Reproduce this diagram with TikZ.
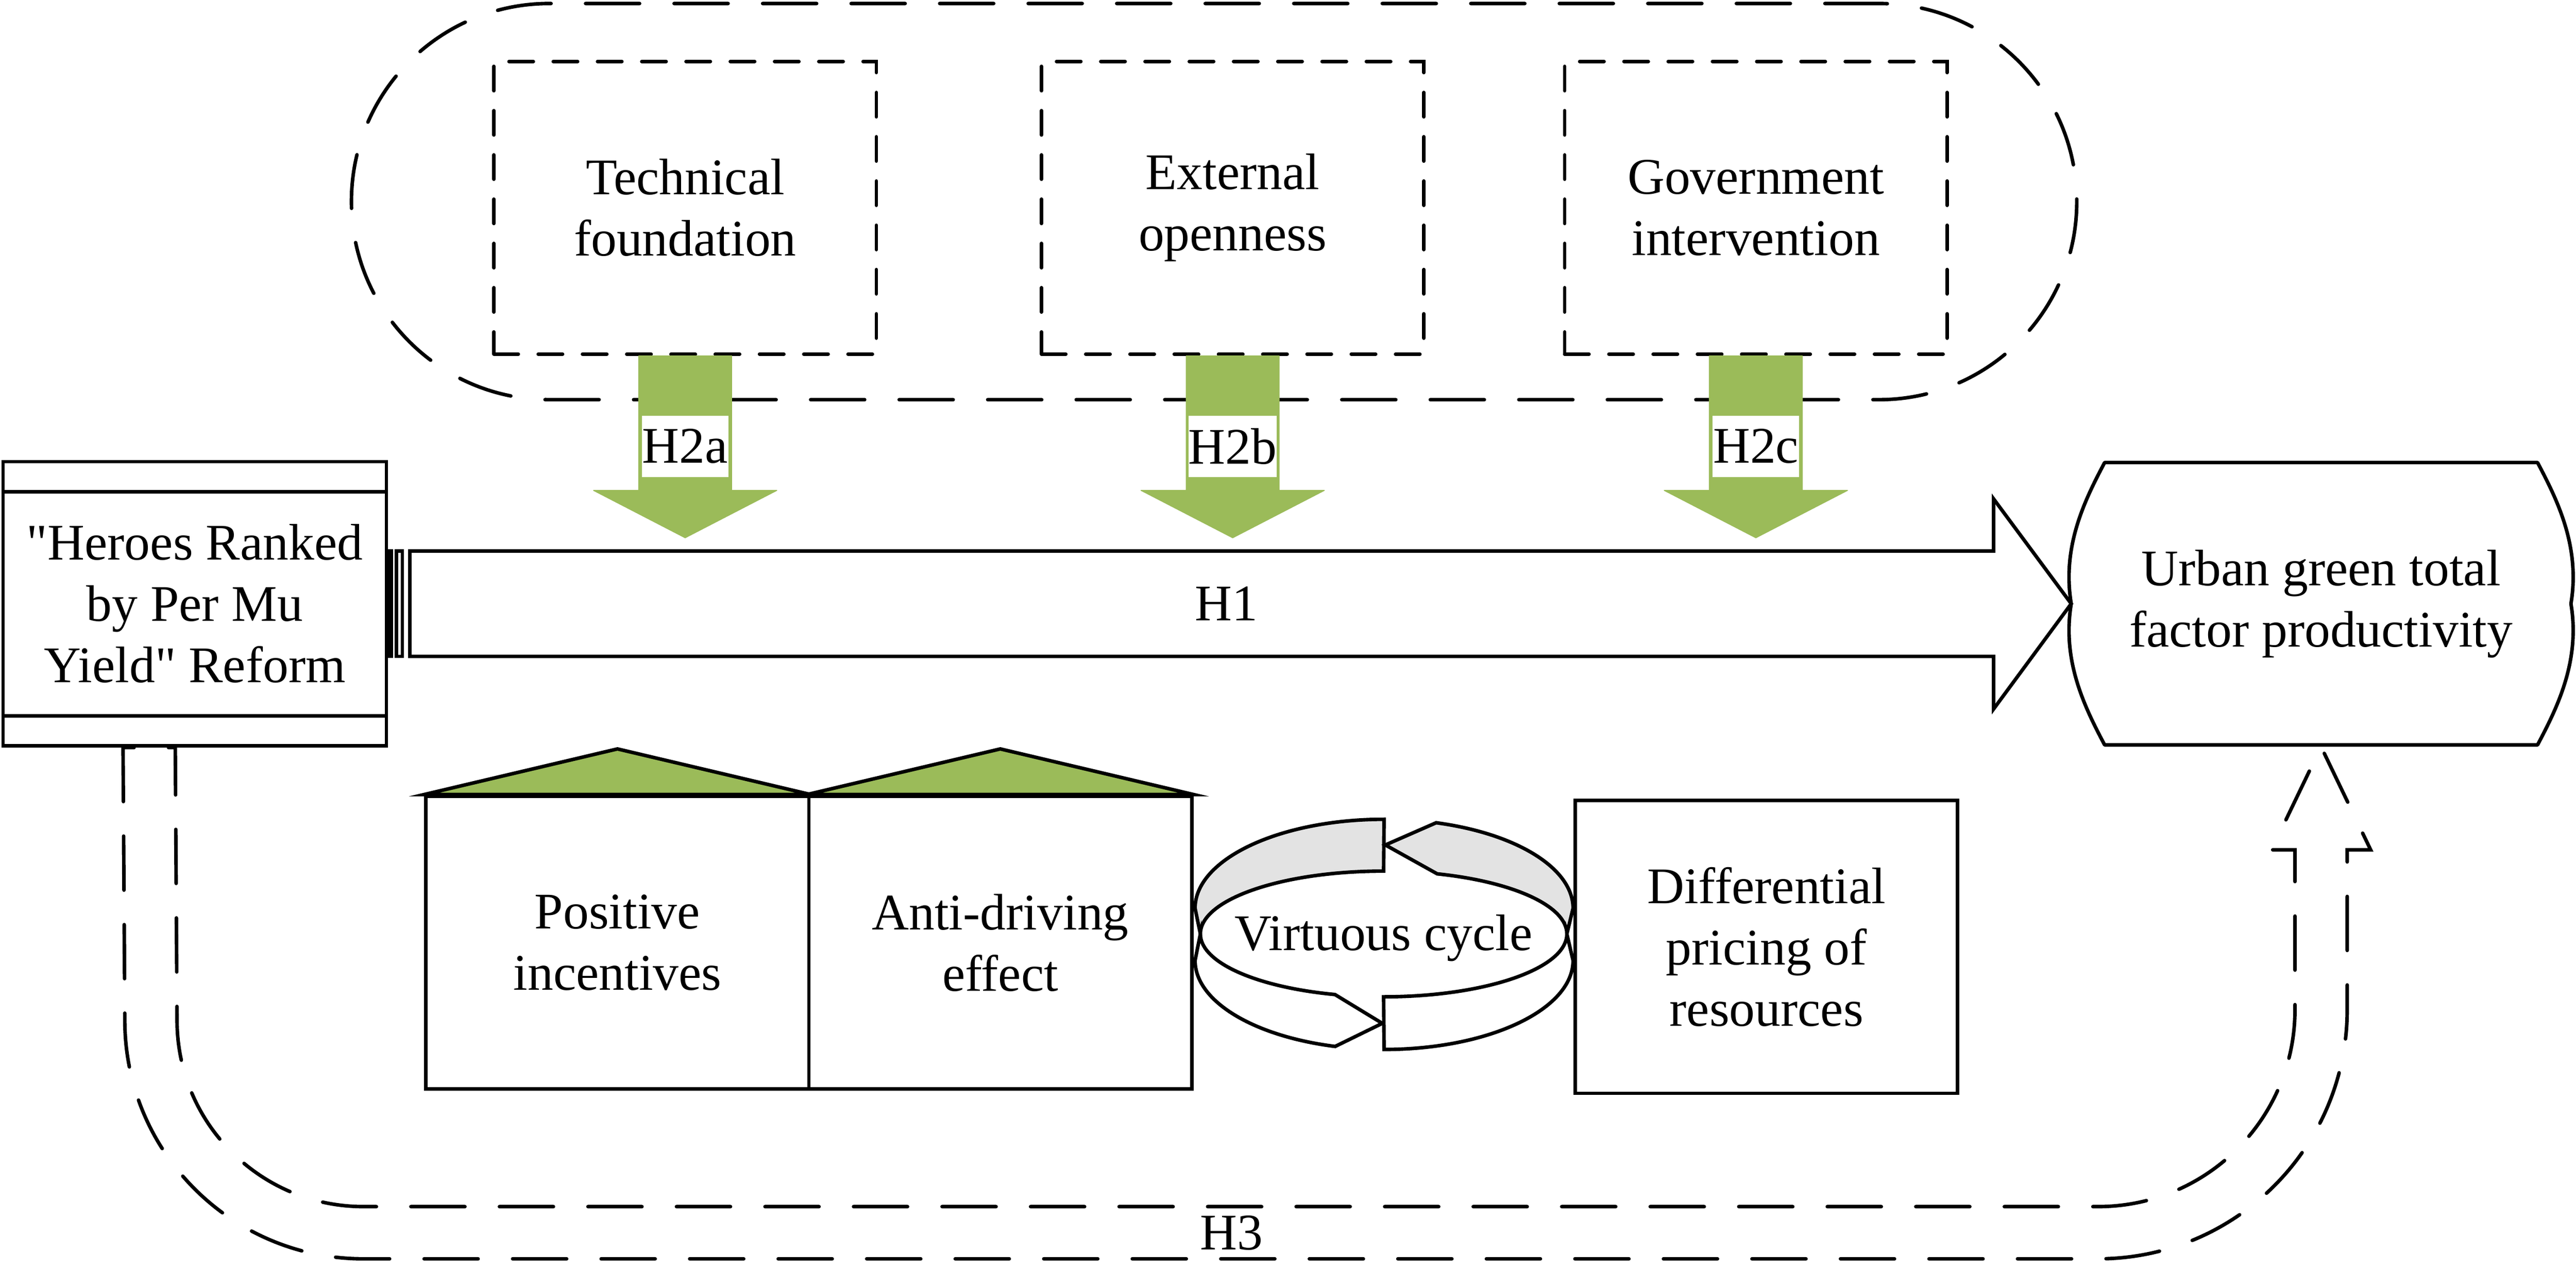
\documentclass[tikz,border=0pt]{standalone}
\usepackage{fontspec}
\setmainfont{Liberation Serif}[Ligatures=TeXOff]
\usepackage{tikz}
\tikzset{>=latex}
\usetikzlibrary{calc}
\definecolor{hypgreen}{HTML}{9BBB59}
\definecolor{cyclegray}{HTML}{E3E3E3}
\tikzset{
	txt/.style={font=\fontsize{33}{39.4}\selectfont, align=center},
	longdash/.style={line width=0.08cm, dash pattern=on 1.22cm off 0.78cm, line cap=round},
	factorbox/.style={txt, draw, dash pattern=on 0.55cm off 0.45cm, line cap=round, minimum width=8.64cm, minimum height=6.61cm},
	plainbox/.style={txt, draw, minimum width=8.65cm, minimum height=6.61cm},
	hyplabel/.style={txt, fill=white, inner sep=0pt, minimum width=1.95cm, minimum height=1.39cm},
}
% green block arrow below a factor box
\newcommand{\hyparrow}[3]{%
	\filldraw[hypgreen, line width=0.02cm, line join=round, shift={(#1.south)}]
		(-1.05,0) -- (-1.05,-3.04) -- (-2.07,-3.04) -- (0,-4.11) -- (2.07,-3.04) -- (1.05,-3.04) -- (1.05,0) -- cycle;
	\node[hyplabel] (#2) at ([yshift=-2.045cm]#1.south) {#3};
}
\begin{document}
\begin{tikzpicture}[line width=0.08cm]
		\useasboundingbox (0,0) rectangle (58.2,29.05);

		% moderating factors
		\node[draw, longdash, rounded corners=4.47cm, minimum width=38.98cm, minimum height=8.95cm] (factors) at (27.43,24.495) {};
		\node[factorbox] (tech) at (15.48,24.355) {Technical\\foundation};
		\node[factorbox] (open) at (27.85,24.355) {External\\openness};
		\node[factorbox] (gov) at (39.67,24.355) {Government\\intervention};
		\hyparrow{tech}{h2a}{H2a}
		\hyparrow{open}{h2b}{H2b}
		\hyparrow{gov}{h2c}{H2c}

		% reform and outcome
		\node[plainbox, minimum width=8.66cm, minimum height=6.42cm] (reform) at (4.40,15.41) {"Heroes Ranked\\by Per Mu\\Yield" Reform};
		\draw ([yshift=-0.72cm]reform.north west) -- ([yshift=-0.72cm]reform.north east);
		\draw ([yshift=0.72cm]reform.south west) -- ([yshift=0.72cm]reform.south east);
		\node[txt, minimum width=11.21cm, minimum height=6.38cm] (tfp) at (52.44,15.41) {Urban green total\\factor productivity};
		\draw[line join=round] (47.55,18.60) -- (57.33,18.60) .. controls (57.78,17.75) and (58.30,16.70) .. (tfp.east)
			.. controls (58.30,14.12) and (57.78,13.07) .. (57.33,12.22) -- (47.55,12.22)
			.. controls (47.10,13.07) and (46.58,14.12) .. (tfp.west)
			.. controls (46.58,16.70) and (47.10,17.75) .. (47.55,18.60) -- cycle;

		% H1
		\draw (8.80,16.60) rectangle (8.84,14.22);
		\draw (8.96,16.60) rectangle (9.09,14.22);
		\draw (9.26,16.60) -- (45.04,16.60) -- (45.04,17.78) -- (tfp.west) -- (45.04,13.03) -- (45.04,14.22) -- (9.26,14.22) -- cycle;
		\node[txt] (h1) at (27.71,15.41) {H1};

		% mechanisms
		\node[plainbox] (pos) at (13.95,7.755) {Positive\\incentives};
		\node[plainbox] (anti) at (22.60,7.755) {Anti-driving\\effect};
		\node[plainbox, minimum width=8.64cm, minimum height=6.62cm] (diff) at (39.91,7.66) {Differential\\pricing of\\resources};
		\filldraw[fill=hypgreen] (pos.north west) -- ([yshift=1.03cm]pos.north) -- (pos.north east) -- cycle;
		\filldraw[fill=hypgreen] (anti.north west) -- ([yshift=1.03cm]anti.north) -- (anti.north east) -- cycle;

		% virtuous cycle
		\coordinate (ringtop) at (31.27,8.53);
		\coordinate (ringbot) at (31.27,7.35);
		\coordinate (ringin) at (31.26,7.95);
		\filldraw[fill=cyclegray] ($(ringtop)+(90:4.27 and 2.01)$) arc[start angle=90, end angle=180, x radius=4.27, y radius=2.01]
			-- ($(ringin)+(180:4.14 and 1.42)$) arc[start angle=180, end angle=90, x radius=4.14, y radius=1.42] -- cycle;
		\filldraw[fill=cyclegray] (31.30,9.96) -- ($(ringtop)+(74:4.27 and 2.01)$) arc[start angle=74, end angle=0, x radius=4.27, y radius=2.01]
			-- ($(ringin)+(0:4.14 and 1.42)$) arc[start angle=0, end angle=73, x radius=4.14, y radius=1.42] -- cycle;
		\filldraw[fill=white] ($(ringin)+(180:4.14 and 1.42)$) arc[start angle=180, end angle=254.6, x radius=4.14, y radius=1.42]
			-- (31.23,5.93) -- ($(ringbot)+(255:4.27 and 2.01)$) arc[start angle=255, end angle=180, x radius=4.27, y radius=2.01] -- cycle;
		\filldraw[fill=white] ($(ringin)+(270:4.14 and 1.42)$) arc[start angle=270, end angle=360, x radius=4.14, y radius=1.42]
			-- ($(ringbot)+(0:4.27 and 2.01)$) arc[start angle=360, end angle=270, x radius=4.27, y radius=2.01] -- cycle;
		\node[txt] (virt) at (31.26,7.86) {Virtuous cycle};

		% H3
		\draw[longdash] ([xshift=2.75cm]reform.south west) -- (2.82,6.00) arc[start angle=180, end angle=270, radius=5.39]
			-- (47.40,0.61) arc[start angle=270, end angle=360, radius=5.63] -- (53.03,9.85) -- (53.56,9.85) -- (tfp.south)
			-- (51.32,9.85) -- (51.85,9.85) -- (51.85,6.24) arc[start angle=0, end angle=-90, radius=4.45]
			-- (8.21,1.79) arc[start angle=270, end angle=180, radius=4.21] -- ([xshift=3.93cm]reform.south west) -- cycle;
		\node[txt] (h3) at (27.82,1.20) {H3};
	\end{tikzpicture}
\end{document}
